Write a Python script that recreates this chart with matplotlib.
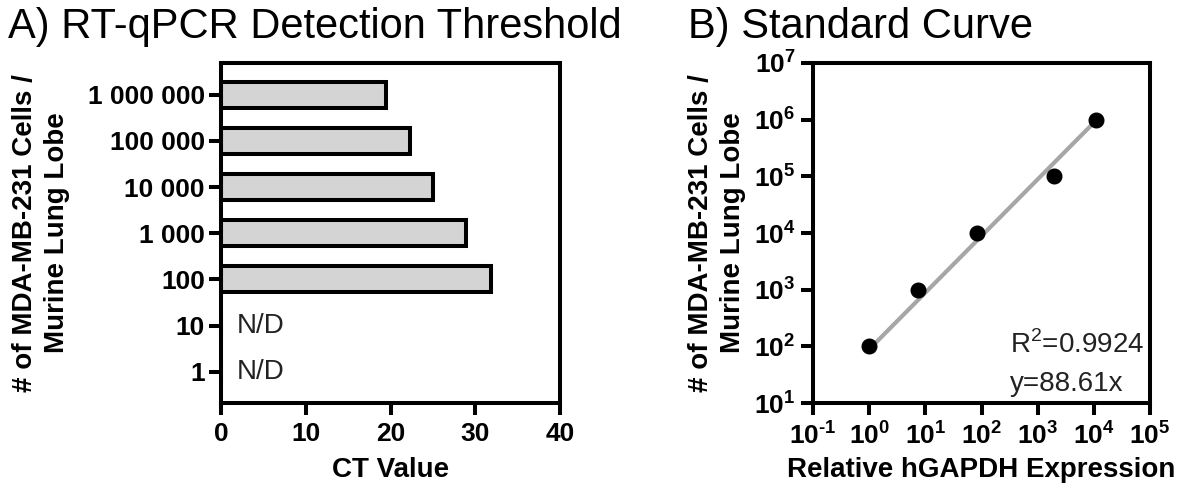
import matplotlib
matplotlib.use('Agg')
import matplotlib.pyplot as plt
import numpy as np

plt.rcParams['font.family'] = ['Liberation Sans', 'DejaVu Sans']
plt.rcParams['mathtext.fontset'] = 'custom'
plt.rcParams['mathtext.rm'] = 'Liberation Sans'
plt.rcParams['mathtext.bf'] = 'Liberation Sans:bold'

# panel A data
cell_counts = ['1', '10', '100', '1 000', '10 000', '100 000', '1 000 000']
ct_values = [np.nan, np.nan, 31.8, 28.9, 25.0, 22.3, 19.5]
ct_ticks = [0, 10, 20, 30, 40]

# panel B data
rel_expression = [1.0, 7.3, 82.7, 1945, 11070]
cells = [1e2, 1e3, 1e4, 1e5, 1e6]
slope = 88.61
r_squared = 0.9924

LW = 2.9
LABEL_FS = 20
TICK_FS = 19
fig = plt.figure(figsize=(11.8, 4.91), dpi=100)

# A) bar chart
ax1 = fig.add_axes([0.1873, 0.1792, 0.2873, 0.6925])
ypos = np.arange(len(cell_counts))
vals = np.nan_to_num(ct_values)
ax1.barh(ypos, vals, height=0.56, color='#d4d4d4', edgecolor='black', linewidth=LW)
for i, v in enumerate(ct_values):
    if np.isnan(v):
        ax1.text(1.8, i, 'N/D', fontsize=LABEL_FS, color='#222222', va='center', ha='left')
ax1.set_ylim(-0.68, 6.69)
ax1.set_xlim(0, 40)
ax1.set_yticks(ypos)
ax1.set_yticklabels(cell_counts, fontsize=TICK_FS, fontweight='bold')
ax1.set_xticks(ct_ticks)
ax1.set_xticklabels([str(t) for t in ct_ticks], fontsize=TICK_FS, fontweight='bold')
ax1.tick_params(axis='y', length=8.6, width=LW, pad=3)
ax1.tick_params(axis='x', length=8.6, width=LW, pad=5)
ax1.set_xlabel('CT Value', fontsize=LABEL_FS, fontweight='bold', va='center')
ax1.xaxis.set_label_coords(0.5, -0.197)
ax1.set_ylabel('# of MDA-MB-231 Cells /\nMurine Lung Lobe', fontsize=LABEL_FS,
               fontweight='bold', va='center', linespacing=1.3)
ax1.yaxis.set_label_coords(-0.53, 0.5)
for s in ax1.spines.values():
    s.set_linewidth(LW)

# B) standard curve
ax2 = fig.add_axes([0.689, 0.1792, 0.2856, 0.6925])
xfit = np.array([rel_expression[0], rel_expression[-1]])
ax2.plot(xfit, slope * xfit, color='#a6a6a6', linewidth=3, zorder=2)
ax2.plot(rel_expression, cells, 'o', color='black', markersize=10.5, zorder=3)
ax2.set_xscale('log')
ax2.set_yscale('log')
ax2.set_xlim(1e-1, 1e5)
ax2.set_ylim(1e1, 1e7)
xexp = list(range(-1, 6))
yexp = list(range(1, 8))
ax2.set_xticks([10.0 ** k for k in xexp])
ax2.set_xticklabels([r'$\mathbf{10^{%s}}$' % str(k).replace('-', '\u2010') for k in xexp],
                    fontsize=TICK_FS)
ax2.set_yticks([10.0 ** k for k in yexp])
ax2.set_yticklabels([r'$\mathbf{10^{%d}}$' % k for k in yexp], fontsize=TICK_FS)
ax2.minorticks_off()
ax2.tick_params(axis='y', length=8.6, width=LW, pad=4)
ax2.tick_params(axis='x', length=8.6, width=LW, pad=5)
ax2.set_xlabel('Relative hGAPDH Expression', fontsize=LABEL_FS, fontweight='bold', va='center')
ax2.xaxis.set_label_coords(0.5, -0.197)
ax2.set_ylabel('# of MDA-MB-231 Cells /\nMurine Lung Lobe', fontsize=LABEL_FS,
               fontweight='bold', va='center', linespacing=1.3)
ax2.yaxis.set_label_coords(-0.285, 0.5)
for s in ax2.spines.values():
    s.set_linewidth(LW)
ax2.text(0.585, 0.17, r'R$^2$=%.4f' % r_squared, transform=ax2.transAxes,
         fontsize=LABEL_FS, va='center', ha='left', color='#222222')
ax2.text(0.585, 0.056, 'y=%.2fx' % slope, transform=ax2.transAxes,
         fontsize=LABEL_FS, va='center', ha='left', color='#222222')

fig.text(8 / 1180, 1 - 38 / 491, 'A) RT-qPCR Detection Threshold', fontsize=30, va='baseline')
fig.text(688 / 1180, 1 - 38 / 491, 'B) Standard Curve', fontsize=30, va='baseline')

fig.savefig('out.png', dpi=100)
